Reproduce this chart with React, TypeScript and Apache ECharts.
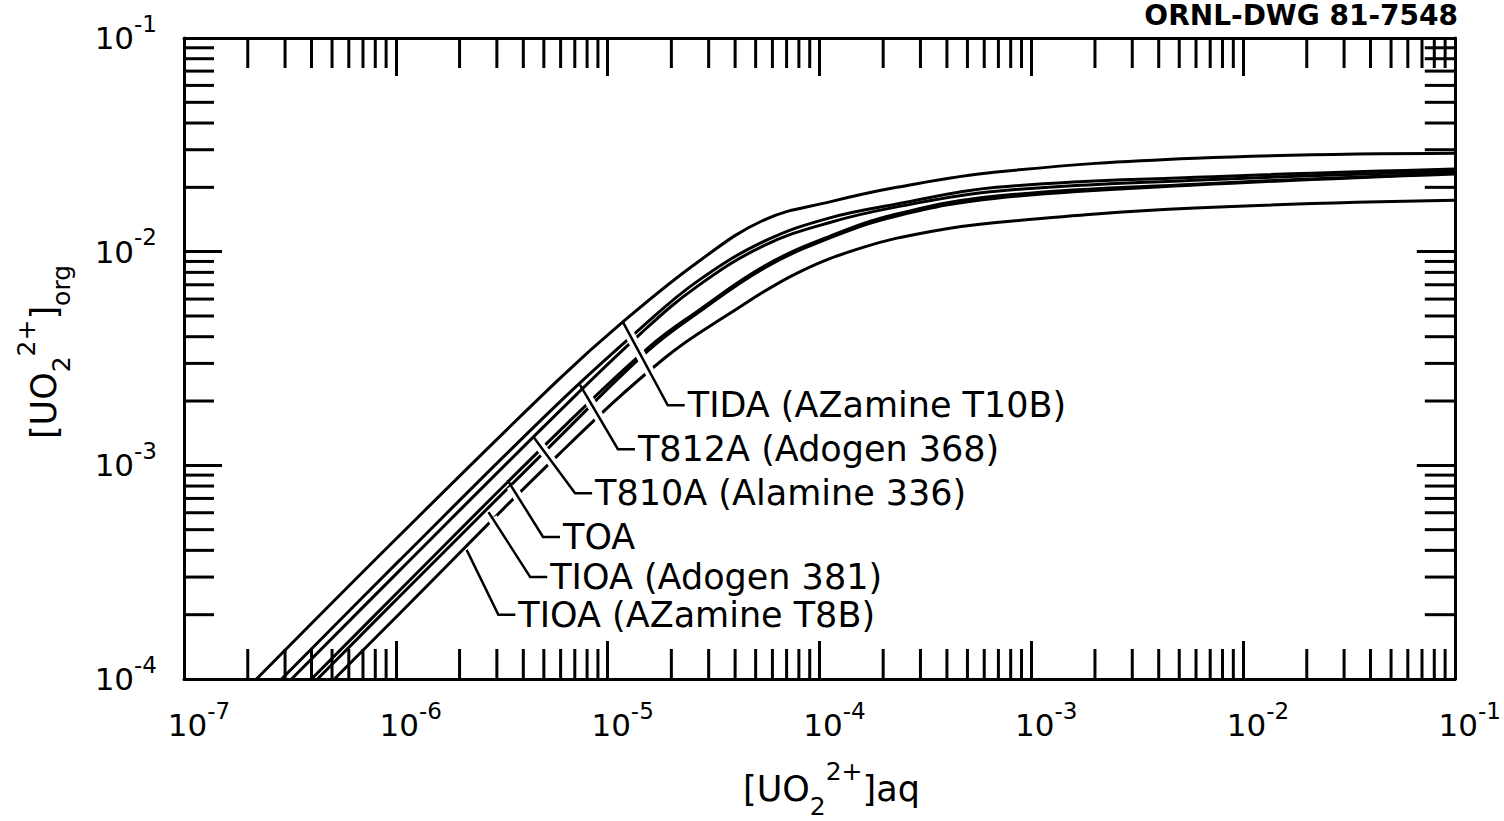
import React, { useEffect, useRef } from "react";
import * as echarts from "echarts";

// ---- axis ranges ----
const X_MIN = 1e-7;
const X_MAX = 1e-1;
const Y_MIN = 1e-4;
const Y_MAX = 1e-1;

// ---- minor tick decades / mantissas ----
const MANTISSAS = [2, 3, 4, 5, 6, 7, 8, 9];
const X_DECADES = [1e-7, 1e-6, 1e-5, 1e-4, 1e-3, 1e-2];
const Y_DECADES = [1e-4, 1e-3, 1e-2];

// ---- curves ----
const TIDA_X = [2.2e-7, 1.035e-6, 5.85e-6, 1.18e-5, 2.66e-5, 5.5e-5, 1.12e-4, 2.32e-4, 6.84e-4, 5.95e-3, 0.1];
const TIDA_Y = [1.0e-4, 4.67e-4, 2.51e-3, 4.69e-3, 8.93e-3, 1.41e-2, 1.71e-2, 2.0e-2, 2.36e-2, 2.74e-2, 2.89e-2];

const T812A_X = [2.89e-7, 1.035e-6, 5.85e-6, 1.44e-5, 2.66e-5, 5.5e-5, 1.12e-4, 2.32e-4, 6.84e-4, 5.95e-3, 0.1];
const T812A_Y = [1.0e-4, 3.57e-4, 1.95e-3, 4.4e-3, 7.28e-3, 1.12e-2, 1.44e-2, 1.67e-2, 2.0e-2, 2.23e-2, 2.44e-2];

const T810A_X = [3.22e-7, 1.035e-6, 5.85e-6, 1.44e-5, 2.66e-5, 5.5e-5, 1.12e-4, 2.32e-4, 6.84e-4, 5.95e-3, 0.1];
const T810A_Y = [1.0e-4, 3.2e-4, 1.77e-3, 4.16e-3, 6.9e-3, 1.07e-2, 1.37e-2, 1.62e-2, 1.92e-2, 2.16e-2, 2.38e-2];

const TOA_X = [4.0e-7, 1.035e-6, 5.85e-6, 1.55e-5, 2.66e-5, 5.5e-5, 1.12e-4, 2.32e-4, 6.84e-4, 5.95e-3, 0.1];
const TOA_Y = [1.0e-4, 2.58e-4, 1.43e-3, 3.54e-3, 5.27e-3, 8.57e-3, 1.18e-2, 1.5e-2, 1.82e-2, 2.07e-2, 2.33e-2];

const TIOA381_X = [4.27e-7, 1.035e-6, 5.85e-6, 1.55e-5, 2.66e-5, 5.5e-5, 1.12e-4, 2.32e-4, 6.84e-4, 5.95e-3, 0.1];
const TIOA381_Y = [1.0e-4, 2.42e-4, 1.34e-3, 3.43e-3, 5.16e-3, 8.39e-3, 1.16e-2, 1.47e-2, 1.78e-2, 2.05e-2, 2.31e-2];

const TIOAT8B_X = [5.13e-7, 1.035e-6, 5.85e-6, 1.86e-5, 3.8e-5, 7.85e-5, 1.62e-4, 3.31e-4, 6.84e-4, 5.95e-3, 0.1];
const TIOAT8B_Y = [1.0e-4, 2.01e-4, 1.12e-3, 3.18e-3, 5.16e-3, 7.94e-3, 1.05e-2, 1.24e-2, 1.37e-2, 1.6e-2, 1.74e-2];

const CURVES = [
  { name: "TIDA", x: TIDA_X, y: TIDA_Y },
  { name: "T812A", x: T812A_X, y: T812A_Y },
  { name: "T810A", x: T810A_X, y: T810A_Y },
  { name: "TOA", x: TOA_X, y: TOA_Y },
  { name: "TIOA381", x: TIOA381_X, y: TIOA381_Y },
  { name: "TIOAT8B", x: TIOAT8B_X, y: TIOAT8B_Y },
];

// ---- labels with leaders (data coordinates) ----
const LABEL_NAMES = [
  "TIDA (AZamine T10B)",
  "T812A (Adogen 368)",
  "T810A (Alamine 336)",
  "TOA",
  "TIOA (Adogen 381)",
  "TIOA (AZamine T8B)",
];
const LABEL_START_X = [1.18e-5, 7.41e-6, 4.46e-6, 3.37e-6, 2.74e-6, 2.16e-6];
const LABEL_START_Y = [4.69e-3, 2.38e-3, 1.36e-3, 8.53e-4, 6.04e-4, 4.02e-4];
const LABEL_TEXT_X = [2.39e-5, 1.39e-5, 8.73e-6, 6.16e-6, 5.36e-6, 3.79e-6];
const LABEL_TEXT_Y = [1.91e-3, 1.19e-3, 7.41e-4, 4.62e-4, 3.0e-4, 2.0e-4];

const FONT = '"DejaVu Sans", "Noto Sans", sans-serif';
const MINOR_LEN = 30;
const MAJOR_LEN = 38;

const expOf = (v: number) => Math.round(Math.log10(v));

const tickRich = {
  b: { fontSize: 31, lineHeight: 52, fontFamily: FONT, color: "#000" },
  s: { fontSize: 23, lineHeight: 22, fontFamily: FONT, color: "#000", verticalAlign: "top" },
};

const titleRich = {
  b: { fontSize: 35, lineHeight: 60, fontFamily: FONT, color: "#000" },
  sub: { fontSize: 25, lineHeight: 26, fontFamily: FONT, color: "#000", verticalAlign: "bottom" },
  sup: { fontSize: 25, lineHeight: 26, fontFamily: FONT, color: "#000", verticalAlign: "top" },
};

function buildOption(): any {
  const minorData: number[][] = [
    ...X_DECADES.flatMap((d) => MANTISSAS.map((m) => [m * d, Y_MIN, 0])),
    ...Y_DECADES.flatMap((d) => MANTISSAS.map((m) => [X_MIN, m * d, 1])),
  ];

  const labelData = LABEL_NAMES.map((_, i) => [
    LABEL_START_X[i],
    LABEL_START_Y[i],
    LABEL_TEXT_X[i],
    LABEL_TEXT_Y[i],
  ]);

  const axisLine = { show: true, lineStyle: { color: "#000", width: 3 } };
  const axisTick = { show: true, inside: true, length: MAJOR_LEN, lineStyle: { color: "#000", width: 3 } };

  return {
    animation: false,
    backgroundColor: "#fff",
    grid: { left: 184, right: 43, top: 38, bottom: 142, containLabel: false },
    xAxis: [
      {
        type: "log",
        logBase: 10,
        min: X_MIN,
        max: X_MAX,
        splitNumber: 6,
        position: "bottom",
        axisLine,
        axisTick,
        splitLine: { show: false },
        axisLabel: {
          show: true,
          margin: 20,
          padding: [0, 0, 0, 30],
          formatter: (v: number) => `{b|10}{s|-${-expOf(v)}}`,
          rich: tickRich,
        },
      },
      {
        type: "log",
        logBase: 10,
        min: X_MIN,
        max: X_MAX,
        splitNumber: 6,
        position: "top",
        axisLine,
        axisTick,
        splitLine: { show: false },
        axisLabel: { show: false },
      },
    ],
    yAxis: [
      {
        type: "log",
        logBase: 10,
        min: Y_MIN,
        max: Y_MAX,
        splitNumber: 3,
        position: "left",
        axisLine,
        axisTick,
        splitLine: { show: false },
        axisLabel: {
          show: true,
          margin: 27,
          formatter: (v: number) => `{b|10}{s|-${-expOf(v)}}`,
          rich: tickRich,
        },
      },
      {
        type: "log",
        logBase: 10,
        min: Y_MIN,
        max: Y_MAX,
        splitNumber: 3,
        position: "right",
        axisLine,
        axisTick,
        splitLine: { show: false },
        axisLabel: { show: false },
      },
    ],
    graphic: [
      {
        type: "text",
        right: 46,
        top: 1,
        style: {
          text: "ORNL-DWG 81-7548",
          fill: "#000",
          font: `bold 28px ${FONT}`,
        },
      },
      {
        type: "text",
        x: 743,
        y: 789,
        style: {
          text: "{b|[UO}{sub|2}{sup|2+}{b|]aq}",
          rich: titleRich,
          align: "left",
          verticalAlign: "middle",
        },
      },
      {
        type: "text",
        x: 44,
        y: 352,
        rotation: Math.PI / 2,
        style: {
          text: "{b|[UO}{sub|2}{sup|2+}{b|]}{sub|org}",
          rich: titleRich,
          align: "center",
          verticalAlign: "middle",
        },
      },
    ],
    series: [
      ...CURVES.map((c) => ({
        type: "line",
        name: c.name,
        xAxisIndex: 0,
        yAxisIndex: 0,
        data: c.x.map((x, i) => [x, c.y[i]]),
        showSymbol: false,
        symbol: "none",
        smooth: 0.4,
        clip: true,
        z: 2,
        lineStyle: { color: "#000", width: 3 },
        itemStyle: { color: "#000" },
      })),
      {
        type: "custom",
        name: "minorTicks",
        xAxisIndex: 0,
        yAxisIndex: 0,
        clip: false,
        z: 3,
        silent: true,
        data: minorData,
        renderItem: (_params: any, api: any) => {
          const kind = api.value(2);
          const style = { stroke: "#000", lineWidth: 3 };
          if (kind === 0) {
            const v = api.value(0);
            const b = api.coord([v, Y_MIN]);
            const t = api.coord([v, Y_MAX]);
            return {
              type: "group",
              children: [
                { type: "line", shape: { x1: b[0], y1: b[1], x2: b[0], y2: b[1] - MINOR_LEN }, style },
                { type: "line", shape: { x1: t[0], y1: t[1], x2: t[0], y2: t[1] + MINOR_LEN }, style },
              ],
            };
          }
          const v = api.value(1);
          const l = api.coord([X_MIN, v]);
          const r = api.coord([X_MAX, v]);
          return {
            type: "group",
            children: [
              { type: "line", shape: { x1: l[0], y1: l[1], x2: l[0] + MINOR_LEN, y2: l[1] }, style },
              { type: "line", shape: { x1: r[0], y1: r[1], x2: r[0] - MINOR_LEN, y2: r[1] }, style },
            ],
          };
        },
      },
      {
        type: "custom",
        name: "labels",
        xAxisIndex: 0,
        yAxisIndex: 0,
        clip: false,
        z: 5,
        silent: true,
        data: labelData,
        renderItem: (params: any, api: any) => {
          const i = params.dataIndex;
          const s = api.coord([api.value(0), api.value(1)]);
          const t = api.coord([api.value(2), api.value(3)]);
          const e = [t[0] - 20, t[1]];
          const h = [t[0] - 3, t[1]];
          const dx = e[0] - s[0];
          const dy = e[1] - s[1];
          const L = Math.hypot(dx, dy) || 1;
          const s2 = [s[0] + (dx / L) * 7, s[1] + (dy / L) * 7];
          return {
            type: "group",
            children: [
              {
                type: "polyline",
                shape: { points: [s2, e, h] },
                style: { stroke: "#fff", lineWidth: 10, fill: "none" },
              },
              {
                type: "polyline",
                shape: { points: [s, e, h] },
                style: { stroke: "#000", lineWidth: 2.5, fill: "none" },
              },
              {
                type: "text",
                x: t[0],
                y: t[1],
                style: {
                  text: LABEL_NAMES[i],
                  fill: "#000",
                  font: `35px ${FONT}`,
                  align: "left",
                  verticalAlign: "middle",
                },
              },
            ],
          };
        },
      },
    ],
  };
}

export default function App() {
  const ref = useRef<HTMLDivElement>(null);
  useEffect(() => {
    document.body.style.margin = "0";
    const chart = echarts.init(ref.current!, null, { renderer: "svg" });
    chart.setOption(buildOption());
    return () => chart.dispose();
  }, []);
  return <div ref={ref} style={{ width: 1504, height: 821, background: "#fff" }} />;
}
